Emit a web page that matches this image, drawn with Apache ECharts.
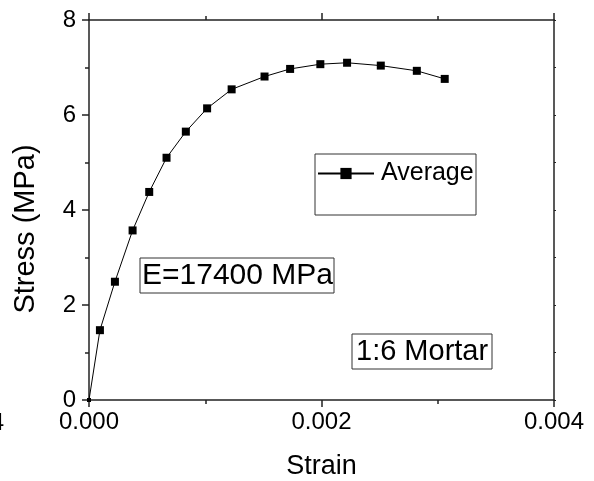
<!DOCTYPE html>
<html>
<head>
<meta charset="utf-8">
<script src="https://cdn.jsdelivr.net/npm/echarts@6/dist/echarts.min.js"></script>
<style>html,body{margin:0;padding:0;background:#fff;}#c{width:594px;height:481px;}</style>
</head>
<body>
<div id="c"></div>
<script>
const strain = [0, 0.000094, 0.000223, 0.000375, 0.000518, 0.000667, 0.000833, 0.001016, 0.001227, 0.00151, 0.00173, 0.00199, 0.00222, 0.00251, 0.00282, 0.00306];
const stress = [0, 1.47, 2.49, 3.57, 4.38, 5.10, 5.65, 6.14, 6.54, 6.81, 6.97, 7.07, 7.10, 7.04, 6.93, 6.76];
const seriesName = 'Average';
const xTicks = [0, 0.002, 0.004];
const yTicks = [0, 2, 4, 6, 8];
const annotE = 'E=17400 MPa';
const annotM = '1:6 Mortar';

const FONT = 'Liberation Sans, Arial, sans-serif';
const data = strain.map((s, i) => i === 0 ? {value: [s, stress[i]], symbolSize: 4} : [s, stress[i]]);
const axisCol = '#222';

const chart = echarts.init(document.getElementById('c'), null, {renderer: 'canvas'});
chart.setOption({
  backgroundColor: '#fff',
  animation: false,
  grid: {left: 89, right: 40, top: 20, bottom: 81, containLabel: false, outerBoundsMode: 'none'},
  xAxis: [{
    type: 'value', position: 'bottom', min: xTicks[0], max: xTicks[xTicks.length - 1], interval: 0.002,
    name: 'Strain', nameLocation: 'middle', nameGap: 53,
    nameTextStyle: {fontFamily: FONT, fontSize: 27, color: '#000'},
    axisLine: {show: true, onZero: false, lineStyle: {color: axisCol, width: 1.5}},
    axisTick: {show: true, inside: false, length: 7, lineStyle: {color: axisCol, width: 1.5}},
    minorTick: {show: true, splitNumber: 2, length: 4, lineStyle: {color: axisCol, width: 1.5}},
    splitLine: {show: false},
    axisLabel: {fontFamily: FONT, fontSize: 24, color: '#000', margin: 10, formatter: v => v.toFixed(3), showMinLabel: true, showMaxLabel: true}
  }, {
    type: 'value', position: 'top', min: 0, max: 0.004, interval: 0.002,
    axisLine: {show: true, onZero: false, lineStyle: {color: axisCol, width: 1.5}},
    axisTick: {show: true, inside: false, length: 7, lineStyle: {color: axisCol, width: 1.5}},
    minorTick: {show: true, splitNumber: 2, length: 4, lineStyle: {color: axisCol, width: 1.5}},
    splitLine: {show: false},
    axisLabel: {show: false}
  }],
  yAxis: [{
    type: 'value', position: 'left', min: yTicks[0], max: yTicks[yTicks.length - 1], interval: 2,
    name: 'Stress (MPa)', nameLocation: 'middle', nameGap: 49,
    nameTextStyle: {fontFamily: FONT, fontSize: 29, color: '#000', padding: [0, 38, 0, 0]},
    axisLine: {show: true, onZero: false, lineStyle: {color: axisCol, width: 1.5}},
    axisTick: {show: true, inside: false, length: 7, lineStyle: {color: axisCol, width: 1.5}},
    minorTick: {show: true, splitNumber: 2, length: 4, lineStyle: {color: axisCol, width: 1.5}},
    splitLine: {show: false},
    axisLabel: {fontFamily: FONT, fontSize: 24, color: '#000', margin: 13}
  }, {
    type: 'value', position: 'right', min: 0, max: 8, interval: 2,
    axisLine: {show: true, onZero: false, lineStyle: {color: axisCol, width: 1.5}},
    axisTick: {show: true, inside: false, length: 2, lineStyle: {color: axisCol, width: 1}},
    minorTick: {show: true, splitNumber: 2, length: 2, lineStyle: {color: axisCol, width: 1}},
    splitLine: {show: false},
    axisLabel: {show: false}
  }],
  legend: {
    show: true, left: 317, top: 161, padding: 0, itemGap: 0,
    itemWidth: 56, itemHeight: 14,
    textStyle: {fontFamily: FONT, fontSize: 25, color: '#000', padding: [0, 0, 0, 2]},
    data: [seriesName]
  },
  series: [{
    name: seriesName, type: 'line', xAxisIndex: 0, yAxisIndex: 0,
    data: data, symbol: 'rect', symbolSize: 8,
    lineStyle: {color: '#000', width: 1},
    itemStyle: {color: '#000'},
    clip: false
  }],
  graphic: [
    {type: 'rect', shape: {x: 315, y: 154, width: 161, height: 61}, style: {fill: 'none', stroke: '#333', lineWidth: 1}, z: 10},
    {type: 'rect', shape: {x: 140, y: 258, width: 194, height: 35}, style: {fill: 'none', stroke: '#333', lineWidth: 1}, z: 10},
    {type: 'text', x: 142, y: 276, style: {text: annotE, font: '30px ' + FONT, fill: '#000', textVerticalAlign: 'middle'}, z: 10},
    {type: 'rect', shape: {x: 352, y: 334, width: 140, height: 35}, style: {fill: 'none', stroke: '#333', lineWidth: 1}, z: 10},
    {type: 'text', x: 356, y: 352, style: {text: annotM, font: '29px ' + FONT, fill: '#000', textVerticalAlign: 'middle'}, z: 10},
    {type: 'text', x: 4, y: 423, style: {text: '0.004', font: '24px ' + FONT, fill: '#000', textAlign: 'right', textVerticalAlign: 'middle'}, z: 10}
  ]
});
</script>
</body>
</html>
